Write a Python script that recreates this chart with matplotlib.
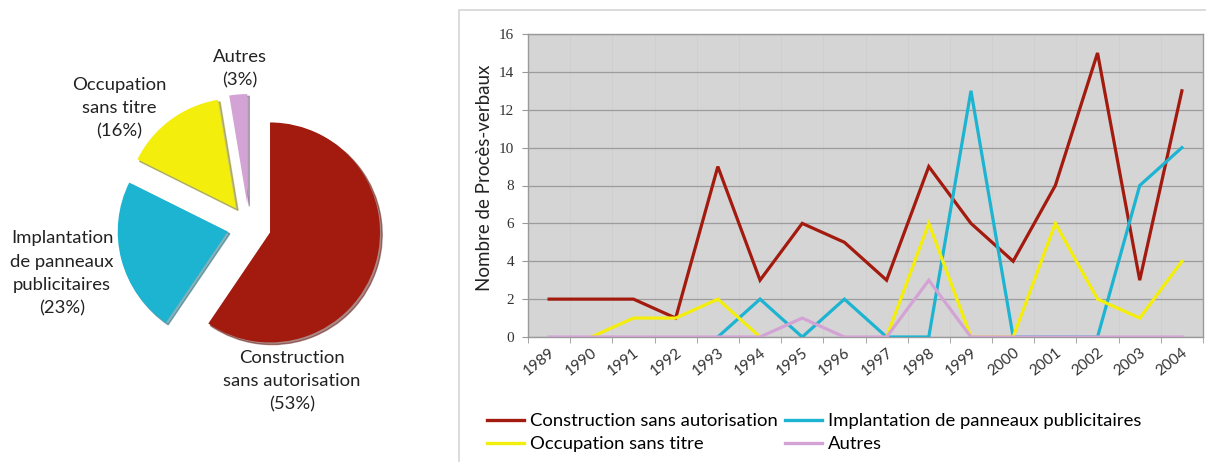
import numpy as np
import matplotlib
matplotlib.use("Agg")
import matplotlib.pyplot as plt
import matplotlib.transforms as mtransforms
from matplotlib.patches import Rectangle

plt.rcParams['font.family'] = ['Lato', 'DejaVu Sans']

# line chart data (nan = no value drawn)
years = ['1989', '1990', '1991', '1992', '1993', '1994', '1995', '1996',
         '1997', '1998', '1999', '2000', '2001', '2002', '2003', '2004']
construction = [2, 2, 2, 1, 9, 3, 6, 5, 3, 9, 6, 4, 8, 15, 3, 13]
implantation = [np.nan, np.nan, np.nan, np.nan, 0, 2, 0, 2, 0, 0, 13, 0, 0, 0, 8, 10]
occupation = [np.nan, 0, 1, 1, 2, 0, np.nan, np.nan, 0, 6, 0, 0, 6, 2, 1, 4]
autres = [0, 0, 0, 0, 0, 0, 1, 0, 0, 3, 0, 0, 0, 0, 0, 0]

# pie data
pie_values = [91, 35, 23, 4]
pie_labels = ['Construction\nsans autorisation\n(53%)',
              'Implantation\nde panneaux\npublicitaires\n(23%)',
              'Occupation\nsans titre\n(16%)',
              'Autres\n(3%)']
legend_labels = ['Construction sans autorisation',
                 'Implantation de panneaux publicitaires',
                 'Occupation sans titre',
                 'Autres']

red = '#a31a0e'
cyan = '#1db4d2'
yellow = '#f4ee0c'
pink = '#d4a3d6'
colors = [red, cyan, yellow, pink]

W, H = 1206, 462
fig = plt.figure(figsize=(W / 100, H / 100), dpi=100)
fig.patch.set_facecolor('white')

# outer frame of the line chart
fig.patches.append(Rectangle((459 / W, -0.1), 0.7, (H - 10) / H + 0.1,
                             transform=fig.transFigure, fill=False,
                             edgecolor='#d6d6d6', lw=1.2))

# ---- pie ----
axp = fig.add_axes([73 / W, 60 / H, 352 / W, 352 / H])
axp.pie(pie_values, colors=colors, startangle=90, counterclock=False,
        explode=[0.2, 0.2, 0.2, 0.2],
        shadow={'ox': 0.014, 'oy': -0.014, 'shade': 0.45})
axp.set_xlim(-1.6, 1.6)
axp.set_ylim(-1.6, 1.6)
label_pos = [(0.39, -1.41), (-1.70, -0.43), (-1.18, 1.07), (-0.08, 1.43)]
for (x, y), txt in zip(label_pos, pie_labels):
    axp.text(x, y, txt, ha='center', va='center', fontsize=13.3,
             color='#222222', linespacing=1.55)

# ---- line chart ----
ax = fig.add_axes([528 / W, 125 / H, 675 / W, 303 / H])
ax.set_facecolor('#d5d5d5')
x = np.arange(len(years))
for vals, c in [(construction, red), (implantation, cyan),
                (occupation, yellow), (autres, pink)]:
    ax.plot(x, vals, color=c, lw=2.3, solid_joinstyle='miter', zorder=3)

ax.set_xlim(-0.5, len(years) - 0.5)
ax.set_ylim(0, 16)
ax.set_yticks(range(0, 17, 2))
ax.yaxis.grid(True, color='#9c9c9c', lw=0.9)
ax.set_xticks(np.arange(-0.5, len(years), 1), minor=True)
ax.xaxis.grid(True, which='minor', color='#cfcfcf', lw=0.6)
ax.set_axisbelow(True)
ax.set_xticks(x)
ax.set_xticklabels(years, rotation=38, ha='right', rotation_mode='anchor',
                   fontsize=11, color='#333333')
shift = mtransforms.ScaledTranslation(7 / 100, 0, fig.dpi_scale_trans)
for lab in ax.get_xticklabels():
    lab.set_transform(lab.get_transform() + shift)
ax.tick_params(axis='x', which='major', length=0, pad=6)
ax.tick_params(axis='x', which='minor', length=4, color='#999999')
ax.tick_params(axis='y', length=4, color='#999999', pad=6)
for lab in ax.get_yticklabels():
    lab.set_family('Liberation Serif')
    lab.set_fontsize(11)
    lab.set_color('#333333')
for s in ax.spines.values():
    s.set_color('#9a9a9a')
    s.set_linewidth(1.0)

fig.text(485 / W, (H - 178) / H, 'Nombre de Procès-verbaux', rotation=90,
         ha='center', va='center', fontsize=13.5, color='#222222')

handles = [plt.Line2D([], [], color=c, lw=2.4) for c in colors]
order = [0, 2, 1, 3]
fig.legend([handles[i] for i in order], [legend_labels[i] for i in order],
           ncol=2, loc='upper left', bbox_to_anchor=(487 / W, (H - 413) / H),
           frameon=False, fontsize=13.3, handlelength=2.0, handletextpad=0.35,
           columnspacing=0.35, labelspacing=0.38, borderpad=0,
           borderaxespad=0)

fig.savefig('out.png', dpi=100)
